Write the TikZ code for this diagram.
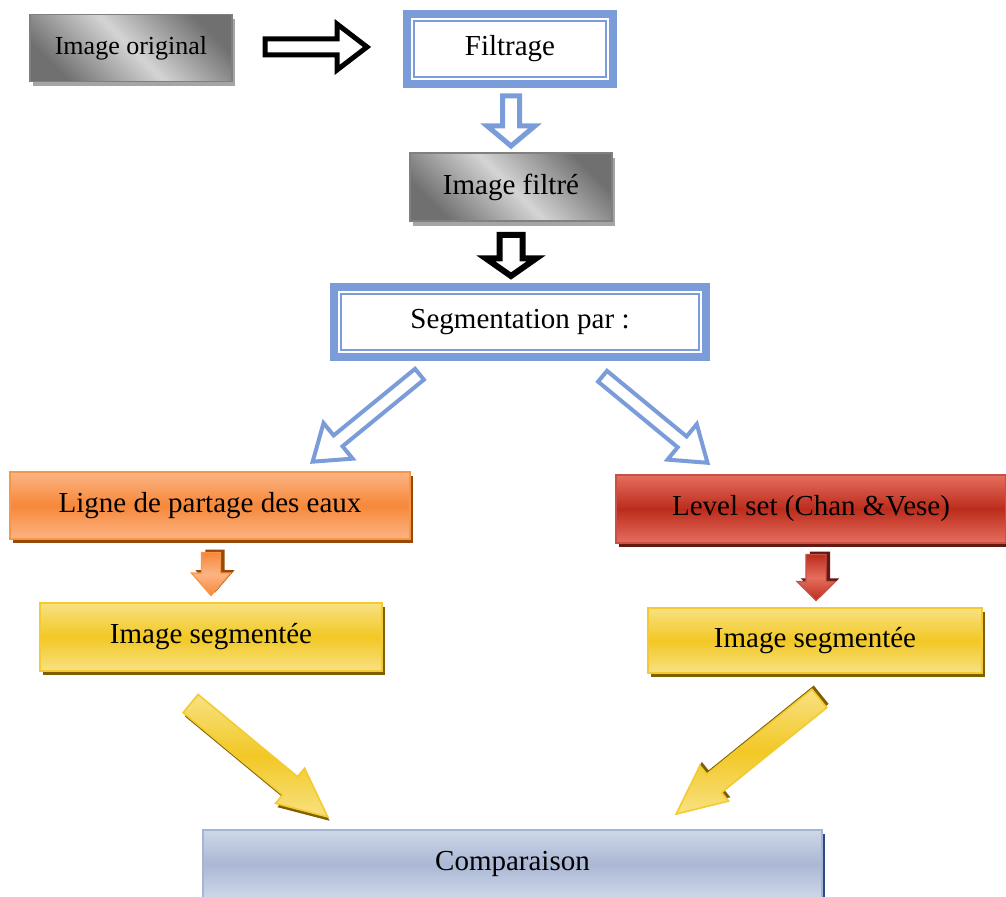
\documentclass[tikz,border=0pt]{standalone}
\usepackage{fontspec}
\setmainfont{Liberation Serif}
\usetikzlibrary{shapes.arrows,shadows}
\definecolor{segblue}{RGB}{122,157,217}
\definecolor{grayd}{RGB}{112,112,112}
\definecolor{grayl}{RGB}{212,212,212}
\definecolor{grayb}{RGB}{128,128,128}
\definecolor{grays}{RGB}{165,165,165}
\definecolor{orangel}{RGB}{252,180,132}
\definecolor{oranged}{RGB}{246,136,58}
\definecolor{orangeb}{RGB}{247,150,70}
\definecolor{oranges}{RGB}{152,72,7}
\definecolor{redl}{RGB}{229,110,94}
\definecolor{redd}{RGB}{188,44,28}
\definecolor{redb}{RGB}{200,80,70}
\definecolor{reds}{RGB}{100,24,18}
\definecolor{yell}{RGB}{248,225,130}
\definecolor{yeld}{RGB}{242,200,36}
\definecolor{yelb}{RGB}{243,203,48}
\definecolor{yels}{RGB}{127,96,0}
\definecolor{compl}{RGB}{207,215,232}
\definecolor{compd}{RGB}{170,184,213}
\definecolor{compb}{RGB}{164,180,211}
\definecolor{comps}{RGB}{46,74,134}
\tikzset{
	box/.style={rectangle, inner sep=0pt, line width=0.8pt, font=\fontsize{14.5}{17}\selectfont},
	boxshade/.style n args={4}{draw=#3, top color=#1, bottom color=#1, middle color=#2,
		drop shadow={fill=#4, opacity=1, shadow xshift=1.5pt, shadow yshift=-2pt}},
	arrowshade/.style n args={6}{draw=#3, top color=#1, bottom color=#1, middle color=#2,
		drop shadow={fill=#4, opacity=1, shadow xshift=#5, shadow yshift=#6}},
	graybox/.style={box, draw=grayb, top color=grayd, bottom color=grayd, middle color=grayl, shading angle=-45,
		drop shadow={fill=grays, opacity=1, shadow xshift=1.5pt, shadow yshift=-2.5pt}},
	dblbox/.style={box, draw=segblue, line width=4pt, fill=white},
	blockarrow/.style={single arrow, single arrow head indent=0pt, inner xsep=0pt, minimum width=0pt, anchor=tail},
	arrowdims/.style n args={4}{minimum height=#1, inner ysep=#2, single arrow head extend=#3, single arrow tip angle=#4},
	hollowarrow/.style={blockarrow, draw=#1, fill=white}
}
\begin{document}
\begin{tikzpicture}[x=0.5pt, y=-0.5pt]
	\useasboundingbox (0,0) rectangle (1006,897);
	\node[graybox, minimum width=101pt, minimum height=33.5pt, font=\fontsize{13}{15}\selectfont] (orig) at (131,48) {Image original};
	\node[dblbox, minimum width=103pt, minimum height=35pt] (filtr) at (510,49) {Filtrage};
	\node[graybox, minimum width=101pt, minimum height=34pt] (filt) at (511,187) {Image filtré};
	\node[dblbox, minimum width=186pt, minimum height=35pt] (segm) at (520,322) {Segmentation par :};
	\node[box, boxshade={orangel}{oranged}{orangeb}{oranges}, minimum width=200pt, minimum height=33.5pt] (lpe) at (210,505.5) {Ligne de partage des eaux};
	\node[box, boxshade={redl}{redd}{redb}{reds}, minimum width=195pt, minimum height=34pt] (cv) at (811,509) {Level set (Chan \&Vese)};
	\node[box, boxshade={yell}{yeld}{yelb}{yels}, minimum width=171pt, minimum height=34pt] (segl) at (211,637) {Image segmentée};
	\node[box, boxshade={yell}{yeld}{yelb}{yels}, minimum width=167pt, minimum height=32.5pt] (segr) at (815,640.5) {Image segmentée};
	\node[box, boxshade={compl}{compd}{compb}{comps}, minimum width=309.5pt, minimum height=34pt] (comp) at (512.5,864) {Comparaison};

	\foreach \n in {filtr, segm}
		\draw[segblue, line width=1pt] ([shift={(5.5pt,-5.5pt)}]\n.north west) rectangle ([shift={(-5.5pt,5.5pt)}]\n.south east);

	\node[hollowarrow=black, line width=2.5pt, arrowdims={51pt}{2.75pt}{7.5pt}{75}] (a1) at (262.5,47) {};
	\node[hollowarrow=segblue, line width=2.5pt, rotate=-90, arrowdims={25pt}{3pt}{7.75pt}{100}] (a2) at (511,93.5) {};
	\node[hollowarrow=black, line width=3pt, rotate=-90, arrowdims={20.5pt}{4.25pt}{6.75pt}{110}] (a3) at (511,232) {};
	\node[hollowarrow=segblue, line width=2pt, rotate=-140.7, arrowdims={69pt}{2.5pt}{8pt}{70}] (a4) at (421,373) {};
	\node[hollowarrow=segblue, line width=2pt, rotate=-39.5, arrowdims={68pt}{2.5pt}{8pt}{70}] (a5) at (601,375) {};
	\node[blockarrow, rotate=-90, line width=0.6pt, arrowshade={oranged}{orangel}{orangeb}{oranges}{2pt}{1.5pt}, arrowdims={21.5pt}{4.5pt}{5pt}{82}] (a6) at (211,552) {};
	\node[blockarrow, rotate=-90, line width=0.6pt, arrowshade={redd}{redl}{redb}{reds}{2pt}{1.5pt}, arrowdims={23pt}{4.75pt}{4.5pt}{90}] (a7) at (816,554) {};
	\node[blockarrow, rotate=-39.6, line width=0.8pt, arrowshade={yell}{yeld}{yelb}{yels}{0.9pt}{-1.9pt}, arrowdims={89pt}{5.5pt}{5.5pt}{50}] (a8) at (190,703) {};
	\node[blockarrow, rotate=-141.1, line width=0.8pt, arrowshade={yell}{yeld}{yelb}{yels}{0.9pt}{1.9pt}, arrowdims={92pt}{5.5pt}{5.5pt}{50}] (a9) at (820,698) {};
\end{tikzpicture}
\end{document}
